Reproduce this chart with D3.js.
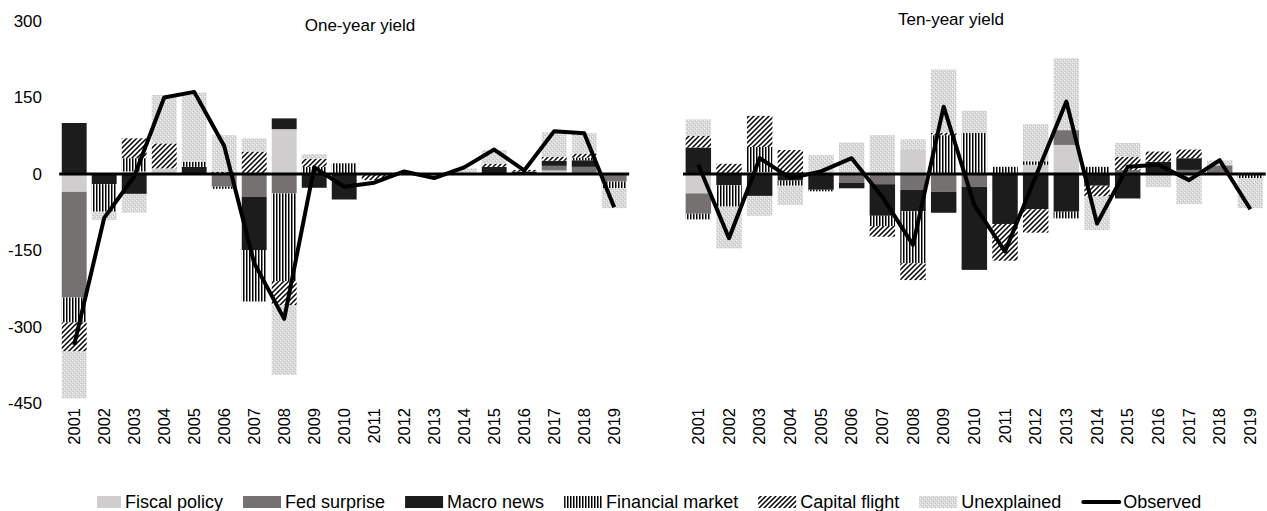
<!DOCTYPE html>
<meta charset="utf-8">
<script src="https://d3js.org/d3.v7.min.js"></script>
<style>
  body { margin: 0; background: #fff; }
  text { font-family: "Liberation Sans", Arial, sans-serif; fill: #000; }
</style>
<div id="chart"></div>
<script>

// categories
var years = ["2001","2002","2003","2004","2005","2006","2007","2008","2009","2010",
             "2011","2012","2013","2014","2015","2016","2017","2018","2019"];
var seriesNames = ["Fiscal policy","Fed surprise","Macro news","Financial market","Capital flight","Unexplained"];
var yTicks = [300, 150, 0, -150, -300, -450];

// one-year yield contributions
var oneFiscal = [-35, 0, 5, 11, 0, 0, 0, 88, 0, 0, 0, 0, 0, 0, 0, 0, 7, 0, 0];
var oneFed    = [-207, 0, 0, 0, 0, -25, -45, -38, 0, 0, 0, 0, 0, 0, 0, 0, 9, 14, -15];
var oneMacro  = [100, -20, -39, 0, 14, 0, -104, 21, -27, -50, 0, 0, 0, 0, 14, 5, 10, 13, 0];
var oneFin    = [-49, -54, 26, 0, 10, -4, -101, -172, 14, 21, 0, 0, 0, 0, 0, 0, 0, 5, -13];
var oneCap    = [-57, 0, 39, 49, 0, 4, 44, -47, 16, 0, -12, 0, 0, 0, 6, 3, 8, 8, 0];
var oneUnexp  = [-92, -16, -37, 95, 136, 72, 26, -137, 9, 0, 0, 3, -5, 11, 27, 0, 48, 40, -39];
var oneObserved = [-335, -86, -5, 150, 161, 55, -175, -284, 13, -25, -17, 5, -8, 13, 48, 7, 84, 80, -65];

// ten-year yield contributions
var tenFiscal = [-38, 0, 4, 0, 0, 0, 0, 47, 0, 0, 0, 18, 57, 0, 0, 0, 0, 0, 0];
var tenFed    = [-40, 0, 0, 0, 0, -17, -20, -31, -35, -25, 0, 0, 29, 0, 8, 0, 8, 17, 0];
var tenMacro  = [52, -22, -43, -13, -31, -11, -62, -42, -41, -163, -98, -69, -74, -23, -48, 24, 23, 0, 0];
var tenFin    = [-11, -42, 49, -10, -3, 0, -20, -102, 76, 81, 14, 7, -13, 14, 0, 0, 0, 0, -8];
var tenCap    = [23, 20, 61, 47, 0, 0, -21, -33, 5, 0, -72, -46, 0, -21, 26, 20, 17, 0, 0];
var tenUnexp  = [32, -82, -39, -38, 37, 62, 76, 21, 124, 43, 0, 73, 141, -66, 27, -26, -59, 10, -59];
var tenObserved = [18, -126, 31, -8, 5, 31, -45, -139, 132, -61, -152, -5, 142, -97, 14, 18, -12, 27, -69];

var width = 1267, height = 511;

var svg = d3.select("#chart")
  .append("svg")
    .attr("width", width)
    .attr("height", height);

// fill patterns
var defs = svg.append("defs");

var pFin = defs.append("pattern").attr("id", "pFin")
  .attr("patternUnits", "userSpaceOnUse").attr("width", 3).attr("height", 3);
pFin.append("rect").attr("width", 3).attr("height", 3).attr("fill", "#fff");
pFin.append("rect").attr("width", 1.5).attr("height", 3).attr("fill", "#000");

var pCap = defs.append("pattern").attr("id", "pCap")
  .attr("patternUnits", "userSpaceOnUse").attr("width", 5).attr("height", 5);
pCap.append("rect").attr("width", 5).attr("height", 5).attr("fill", "#fff");
pCap.append("path").attr("d", "M-1,1 L1,-1 M0,5 L5,0 M4,6 L6,4")
  .attr("stroke", "#000").attr("stroke-width", 1.5);

var pUnexp = defs.append("pattern").attr("id", "pUnexp")
  .attr("patternUnits", "userSpaceOnUse").attr("width", 4).attr("height", 4);
pUnexp.append("rect").attr("width", 4).attr("height", 4).attr("fill", "#dadada");
pUnexp.append("rect").attr("x", 0).attr("y", 0).attr("width", 1).attr("height", 1).attr("fill", "#f5f5f5");
pUnexp.append("rect").attr("x", 2).attr("y", 2).attr("width", 1).attr("height", 1).attr("fill", "#f5f5f5");
pUnexp.append("rect").attr("x", 1).attr("y", 3).attr("width", 1).attr("height", 1).attr("fill", "#bdbdbd");
pUnexp.append("rect").attr("x", 3).attr("y", 1).attr("width", 1).attr("height", 1).attr("fill", "#bdbdbd");

var keys = ["fiscal", "fed", "macro", "fin", "cap", "unexp"];
var fills = ["#cfcdcd", "#767171", "#1c1c1c", "url(#pFin)", "url(#pCap)", "url(#pUnexp)"];

var y = d3.scaleLinear()
  .domain([-450, 300])
  .range([403.5, 21]);

function buildRows(arrs, obs) {
  return years.map(function(yr, i) {
    var row = {year: yr, observed: obs[i]};
    keys.forEach(function(k, j) { row[k] = arrs[j][i]; });
    return row;
  });
}

var panels = [
  {title: "One-year yield", rows: buildRows([oneFiscal, oneFed, oneMacro, oneFin, oneCap, oneUnexp], oneObserved),
   range: [59.2, 629.2], titleX: 360, titleY: 31, showY: true},
  {title: "Ten-year yield", rows: buildRows([tenFiscal, tenFed, tenMacro, tenFin, tenCap, tenUnexp], tenObserved),
   range: [683, 1265.7], titleX: 951, titleY: 25, showY: false}
];

panels.forEach(function(p) {
  var x = d3.scaleBand()
    .domain(years)
    .range(p.range)
    .paddingInner(0.17)
    .paddingOuter(0.085);

  var g = svg.append("g");

  var stack = d3.stack().keys(keys).offset(d3.stackOffsetDiverging)(p.rows);

  stack.forEach(function(layer, li) {
    g.append("g")
      .selectAll("rect")
      .data(layer)
      .enter()
      .append("rect")
        .attr("x", function(d) { return x(d.data.year); })
        .attr("width", x.bandwidth())
        .attr("y", function(d) { return y(Math.max(d[0], d[1])); })
        .attr("height", function(d) { return Math.abs(y(d[0]) - y(d[1])); })
        .attr("fill", fills[li]);
  });

  // zero line
  g.append("line")
    .attr("x1", p.range[0]).attr("x2", p.range[1])
    .attr("y1", y(0)).attr("y2", y(0))
    .attr("stroke", "#000").attr("stroke-width", 3);

  // observed
  var line = d3.line()
    .x(function(d) { return x(d.year) + x.bandwidth() / 2; })
    .y(function(d) { return y(d.observed); });
  g.append("path")
    .datum(p.rows)
    .attr("d", line)
    .attr("fill", "none")
    .attr("stroke", "#000")
    .attr("stroke-width", 4)
    .attr("stroke-linejoin", "round");

  // year labels
  g.append("g")
    .selectAll("text")
    .data(years)
    .enter()
    .append("text")
      .attr("transform", function(d) { return "translate(" + (x(d) + x.bandwidth() / 2) + ",408) rotate(-90)"; })
      .attr("text-anchor", "end")
      .attr("dy", "0.35em")
      .style("font-size", "16.5px")
      .text(function(d) { return d; });

  // title
  g.append("text")
    .attr("x", p.titleX).attr("y", p.titleY)
    .attr("text-anchor", "middle")
    .style("font-size", "17px")
    .text(p.title);

  if (p.showY) {
    g.append("g")
      .selectAll("text")
      .data(yTicks)
      .enter()
      .append("text")
        .attr("x", 42)
        .attr("y", function(d) { return y(d); })
        .attr("dy", "0.35em")
        .attr("text-anchor", "end")
        .style("font-size", "17px")
        .text(function(d) { return d; });
  }
});

// legend
var legend = svg.append("g").attr("transform", "translate(0,502)");
var lx = 97;
var items = seriesNames.concat(["Observed"]);
items.forEach(function(name, i) {
  var sw = i === 0 ? 24 : 38;
  if (i < 6) {
    legend.append("rect")
      .attr("x", lx).attr("y", -6)
      .attr("width", sw).attr("height", 12)
      .attr("fill", fills[i]);
  } else {
    legend.append("line")
      .attr("x1", lx + 2).attr("x2", lx + sw)
      .attr("y1", 0).attr("y2", 0)
      .attr("stroke", "#000").attr("stroke-width", 4)
      .attr("stroke-linecap", "round");
  }
  var t = legend.append("text")
    .attr("x", lx + sw + 4)
    .attr("dy", "0.35em")
    .style("font-size", "18px")
    .text(name);
  lx += sw + 4 + t.node().getComputedTextLength() + 20;
});

</script>
